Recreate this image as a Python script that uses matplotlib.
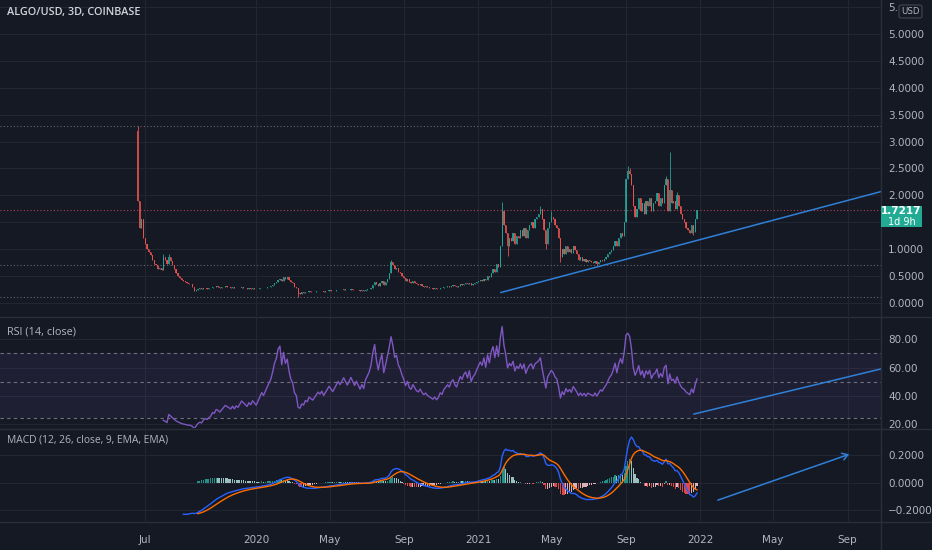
import numpy as np
import pandas as pd
import matplotlib
matplotlib.use("Agg")
import matplotlib.pyplot as plt
import matplotlib.dates as mdates
from matplotlib.patches import FancyBboxPatch, Rectangle, FancyArrowPatch
from matplotlib.lines import Line2D

# ---------------- data ----------------
title = "ALGO/USD, 3D, COINBASE"
first_candle = "2019-06-20"
candle_days = 3
first_open = 3.20

closes = [
    1.90, 1.40, 1.55, 1.20, 1.10, 1.00, 0.95, 0.88, 0.80, 0.72,
    0.70, 0.62, 0.65, 0.60, 0.85, 0.80, 0.72, 0.85, 0.78, 0.70,
    0.62, 0.55, 0.50, 0.46, 0.42, 0.40, 0.38, 0.36, 0.35, 0.34,
    0.30, 0.22, 0.24, 0.26, 0.27, 0.25, 0.27, 0.28, 0.26, 0.27,
    0.28, 0.30, 0.29, 0.31, 0.30, 0.28, 0.29, 0.30, 0.31, 0.30,
    0.29, 0.28, 0.29, 0.27, 0.28, 0.27, 0.28, 0.29, 0.28, 0.27,
    0.26, 0.27, 0.26, 0.27, 0.26, 0.25, 0.26, 0.27, 0.28, 0.27,
    0.28, 0.29, 0.30, 0.31, 0.33, 0.36, 0.38, 0.43, 0.45, 0.40,
    0.48, 0.44, 0.47, 0.42, 0.38, 0.36, 0.30, 0.28, 0.18, 0.17,
    0.19, 0.18, 0.20, 0.19, 0.21, 0.20, 0.19, 0.20, 0.21, 0.22,
    0.21, 0.22, 0.20, 0.21, 0.22, 0.23, 0.22, 0.21, 0.22, 0.23,
    0.24, 0.23, 0.24, 0.25, 0.24, 0.23, 0.24, 0.25, 0.24, 0.23,
    0.24, 0.23, 0.22, 0.23, 0.22, 0.24, 0.25, 0.26, 0.28, 0.33,
    0.38, 0.34, 0.31, 0.36, 0.40, 0.33, 0.38, 0.45, 0.55, 0.75,
    0.70, 0.62, 0.65, 0.58, 0.55, 0.50, 0.46, 0.40, 0.44, 0.38,
    0.36, 0.40, 0.37, 0.34, 0.33, 0.35, 0.32, 0.30, 0.31, 0.29,
    0.28, 0.27, 0.26, 0.27, 0.25, 0.26, 0.28, 0.27, 0.29, 0.30,
    0.31, 0.30, 0.32, 0.33, 0.31, 0.30, 0.32, 0.34, 0.33, 0.35,
    0.36, 0.34, 0.37, 0.33, 0.35, 0.36, 0.38, 0.40, 0.42, 0.41,
    0.45, 0.42, 0.50, 0.47, 0.56, 0.62, 0.57, 0.72, 0.66, 1.05,
    1.70, 1.45, 1.30, 1.05, 1.20, 1.15, 1.30, 1.10, 1.25, 1.20,
    1.35, 1.25, 1.40, 1.20, 1.35, 1.45, 1.50, 1.40, 1.55, 1.60,
    1.65, 1.75, 1.55, 1.35, 1.10, 1.40, 1.50, 1.60, 1.55, 1.45,
    1.40, 1.20, 0.85, 1.00, 0.90, 1.05, 0.95, 1.00, 0.92, 1.05,
    0.98, 0.90, 0.80, 0.85, 0.78, 0.82, 0.75, 0.80, 0.78, 0.76,
    0.74, 0.78, 0.72, 0.76, 0.80, 0.78, 0.82, 0.85, 0.90, 0.95,
    0.98, 1.05, 1.15, 1.05, 1.20, 1.30, 1.25, 1.50, 2.30, 2.45,
    2.40, 2.20, 1.80, 1.60, 1.75, 1.95, 1.70, 1.85, 1.65, 1.90,
    1.80, 1.95, 1.70, 1.85, 1.90, 2.05, 1.80, 1.95, 1.85, 2.20,
    2.30, 1.70, 2.10, 1.85, 1.90, 1.75, 2.00, 1.80, 1.65, 1.55,
    1.50, 1.40, 1.35, 1.30, 1.45, 1.32, 1.55, 1.7217,
]
wick_hi_idx = [0, 14, 17, 139, 200, 221, 227, 269, 270, 290, 292, 296]
wick_hi_val = [3.29, 0.91, 0.90, 0.79, 1.88, 1.80, 1.71, 2.55, 2.50, 2.36, 2.81, 2.06]
wick_lo_idx = [88, 203, 224, 232, 252, 305]
wick_lo_val = [0.11, 0.87, 1.00, 0.76, 0.70, 1.26]

level_lines = [3.29, 0.70, 0.10]
last_price_label = "1.7217"
countdown_label = "1d 9h"

price_trend_dates = ["2021-02-07", "2022-10-26"]
price_trend_vals = [0.19, 2.07]
rsi_trend_dates = ["2021-12-22", "2022-10-26"]
rsi_trend_vals = [27.0, 59.0]
macd_arrow_dates = ["2022-01-26", "2022-09-08"]
macd_arrow_vals = [-0.134, 0.215]
rsi_bands = [70, 50, 24]

price_ticks = [0.0, 0.5, 1.0, 1.5, 2.0, 2.5, 3.0, 3.5, 4.0, 4.5, 5.0, 5.5]
price_tick_labels = ["0.0000", "0.5000", "1.0000", "", "2.0000", "2.5000", "3.0000",
                     "3.5000", "4.0000", "4.5000", "5.0000", "5."]
rsi_ticks = [20, 40, 60, 80]
rsi_tick_labels = ["20.00", "40.00", "60.00", "80.00"]
macd_ticks = [-0.2, 0.0, 0.2]
macd_tick_labels = ["\u22120.2000", "0.0000", "0.2000"]
x_tick_dates = ["2019-07-01", "2020-01-01", "2020-05-01", "2020-09-01", "2021-01-01",
                "2021-05-01", "2021-09-01", "2022-01-01", "2022-05-01", "2022-09-01"]
x_tick_labels = ["Jul", "2020", "May", "Sep", "2021", "May", "Sep", "2022", "May", "Sep"]
x_range = ["2018-11-05", "2022-10-26"]

# ---------------- style ----------------
BG = "#151924"
GRID = "#222632"
SEP = "#2a2e39"
TXT = "#b2b5be"
UP = "#26a69a"
DN = "#ef5350"
BLUE = "#2f80d8"
plt.rcParams["font.family"] = ["DejaVu Sans"]

W, H = 932, 550
fig = plt.figure(figsize=(W / 100, H / 100), dpi=100, facecolor=BG)


def rect(top, bottom, right=881):
    return [0, 1 - bottom / H, right / W, (bottom - top) / H]


ax_p = fig.add_axes(rect(0, 316))
ax_r = fig.add_axes(rect(318, 428), sharex=ax_p)
ax_m = fig.add_axes(rect(430, 521), sharex=ax_p)

# ---------------- candles ----------------
dates = pd.date_range(first_candle, periods=len(closes), freq=f"{candle_days}D")
xd = mdates.date2num(dates)
c = np.array(closes, dtype=float)
o = np.r_[first_open, c[:-1]]
hi = np.maximum(o, c)
lo = np.minimum(o, c)
hi[wick_hi_idx] = np.maximum(hi[wick_hi_idx], wick_hi_val)
lo[wick_lo_idx] = np.minimum(lo[wick_lo_idx], wick_lo_val)
up = c >= o
cols = np.where(up, UP, DN)
ax_p.vlines(xd, lo, hi, colors=cols, lw=0.7, alpha=0.85, zorder=3)
bot = np.minimum(o, c)
hgt = np.maximum(np.abs(c - o), 0.008)
ax_p.bar(xd, hgt, bottom=bot, width=2.0, color=cols, lw=0, alpha=0.85, zorder=3)

for lv in level_lines:
    ax_p.axhline(lv, color="#787b86", lw=0.8, ls=(0, (1, 2)), alpha=0.8, zorder=2)
ax_p.axhline(c[-1], color="#c2465a", lw=0.8, ls=(0, (1, 2)), alpha=0.9, zorder=2)
ax_p.plot(mdates.datestr2num(price_trend_dates), price_trend_vals, color=BLUE, lw=1.1, zorder=4)


# ---------------- RSI (14, close) ----------------
def rma(v, n):
    out = np.full(len(v), np.nan)
    out[n - 1] = np.mean(v[:n])
    for i in range(n, len(v)):
        out[i] = (out[i - 1] * (n - 1) + v[i]) / n
    return out


def ema(v, n, start=0):
    out = np.full(len(v), np.nan)
    if len(v) - start < n:
        return out
    out[start + n - 1] = np.mean(v[start:start + n])
    a = 2 / (n + 1)
    for i in range(start + n, len(v)):
        out[i] = a * v[i] + (1 - a) * out[i - 1]
    return out


ch = np.diff(c)
gain = np.clip(ch, 0, None)
loss = np.clip(-ch, 0, None)
ag = rma(gain, 14)
al = rma(loss, 14)
rsi = np.r_[np.nan, 100 - 100 / (1 + ag / al)]
ax_r.axhspan(rsi_bands[2], rsi_bands[0], color="#7e57c2", alpha=0.10, lw=0, zorder=1)
for b in rsi_bands:
    ax_r.axhline(b, color="#787b86", lw=0.8, ls=(0, (3, 3)), alpha=0.9, zorder=2)
ax_r.plot(xd, rsi, color="#7e57c2", lw=1.0, zorder=3)
ax_r.plot(mdates.datestr2num(rsi_trend_dates), rsi_trend_vals, color=BLUE, lw=1.1, zorder=4)

# ---------------- MACD (12, 26, close, 9) ----------------
e12 = ema(c, 12)
e26 = ema(c, 26)
macd = e12 - e26
sig = ema(macd, 9, start=25)
hist = macd - sig
hcols = []
prev = 0.0
for h in hist:
    if np.isnan(h):
        hcols.append(UP)
        continue
    if h >= 0:
        hcols.append("#26a69a" if h > prev else "#b2dfdb")
    else:
        hcols.append("#ffcdd2" if h > prev else "#ff5252")
    prev = h
ax_m.bar(xd, np.nan_to_num(hist), width=2.0, color=hcols, lw=0, alpha=0.85, zorder=2)
ax_m.plot(xd, macd, color="#2962ff", lw=1.0, zorder=3)
ax_m.plot(xd, sig, color="#ff6d00", lw=1.0, zorder=3)
ad = mdates.datestr2num(macd_arrow_dates)
ax_m.add_patch(FancyArrowPatch((ad[0], macd_arrow_vals[0]), (ad[1], macd_arrow_vals[1]),
                               arrowstyle="->,head_length=4,head_width=2.5", color=BLUE,
                               lw=1.1, zorder=4))

# ---------------- axes styling ----------------
xr = mdates.datestr2num(x_range)
xt = mdates.datestr2num(x_tick_dates)
limits = [(ax_p, (-0.248, 5.639), price_ticks, price_tick_labels),
          (ax_r, (17.1, 95.1), rsi_ticks, rsi_tick_labels),
          (ax_m, (-0.280, 0.386), macd_ticks, macd_tick_labels)]
for ax, yl, yt, ylab in limits:
    ax.set_facecolor(BG)
    ax.set_xlim(xr)
    ax.set_ylim(yl)
    for s in ax.spines.values():
        s.set_visible(False)
    ax.set_xticks(xt)
    ax.set_yticks(yt)
    ax.set_yticklabels(ylab)
    ax.yaxis.tick_right()
    ax.tick_params(axis="y", length=0, pad=5, labelsize=7.5, labelcolor=TXT)
    ax.tick_params(axis="x", length=0)
    ax.grid(True, color=GRID, lw=0.8, zorder=0)
    ax.set_axisbelow(True)
ax_p.tick_params(axis="x", labelbottom=False)
ax_r.tick_params(axis="x", labelbottom=False)
ax_m.set_xticklabels(x_tick_labels)
ax_m.tick_params(axis="x", labelsize=7.5, labelcolor=TXT, pad=10)

# ---------------- separators & labels ----------------
for yy in [317, 429, 522]:
    fig.add_artist(Line2D([0, 1], [1 - yy / H] * 2, color=SEP, lw=1.0))
fig.add_artist(Line2D([881 / W] * 2, [0, 1], color=SEP, lw=1.0))

fam = ["Open Sans", "DejaVu Sans"]
fig.text(7 / W, 1 - 12 / H, title, color="#d1d4dc", fontsize=7.8, fontweight="semibold",
         family=fam, va="center", ha="left")
fig.text(7 / W, 1 - 332 / H, "RSI (14, close)", color=TXT, fontsize=7.8,
         family=fam, va="center", ha="left")
fig.text(7 / W, 1 - 440 / H, "MACD (12, 26, close, 9, EMA, EMA)", color=TXT, fontsize=7.4,
         family=fam, va="center", ha="left")

# USD box
fig.add_artist(FancyBboxPatch((899 / W, 1 - 18 / H), 23 / W, 13 / H,
                              boxstyle="round,pad=0,rounding_size=0.003",
                              transform=fig.transFigure, facecolor=BG,
                              edgecolor="#434651", lw=0.8, zorder=5))
fig.text(910.5 / W, 1 - 11.5 / H, "USD", color=TXT, fontsize=6.2, ha="center", va="center", zorder=6)

# last price label
fig.add_artist(Rectangle((881 / W, 1 - 227 / H), 41 / W, 21 / H, transform=fig.transFigure,
                         facecolor="#22ab94", edgecolor="none", zorder=5))
fig.text(901.5 / W, 1 - 211.5 / H, last_price_label, color="white", fontsize=7.5,
         fontweight="bold", ha="center", va="center", zorder=6)
fig.text(901.5 / W, 1 - 222 / H, countdown_label, color="white", fontsize=7,
         ha="center", va="center", zorder=6)

fig.savefig("out.png", dpi=100, facecolor=BG)
